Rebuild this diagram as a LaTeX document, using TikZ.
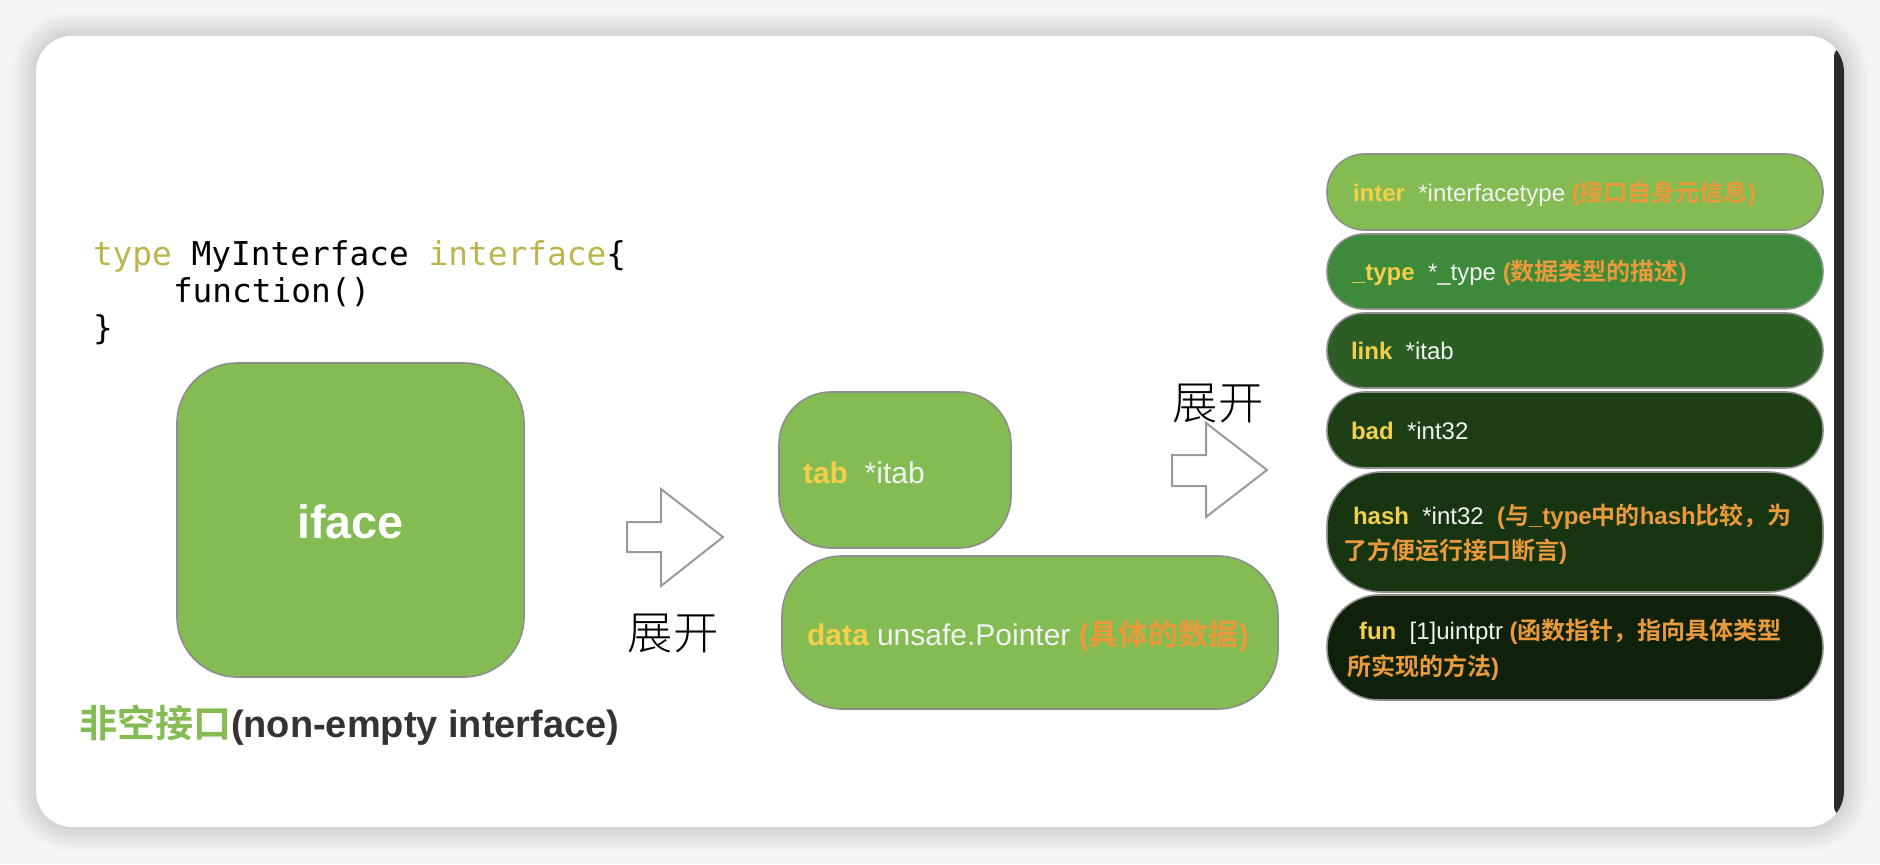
\documentclass[tikz,border=0pt]{standalone}
\usepackage{fontspec}
\setmainfont{Liberation Sans}
\setmonofont{DejaVu Sans Mono}
\newfontfamily\cjk{Noto Sans CJK SC}[BoldFont={* Bold}]
\newfontfamily\cjklight{Noto Sans CJK SC Light}
\definecolor{lgreen}{HTML}{84BC53}
\definecolor{gtwo}{HTML}{3C8A3A}
\definecolor{gthree}{HTML}{2B5D24}
\definecolor{gfour}{HTML}{1D3F15}
\definecolor{gfive}{HTML}{183512}
\definecolor{gsix}{HTML}{0F200B}
\definecolor{kwyellow}{HTML}{F3CF4A}
\definecolor{orng}{HTML}{EA9A3B}
\definecolor{codekw}{HTML}{BBB54B}
\definecolor{bord}{HTML}{8E8E8E}
\definecolor{captiongray}{HTML}{333333}
\definecolor{arrowgray}{HTML}{9A9A9A}
\definecolor{offwhite}{HTML}{F2F2F2}
\newcommand\kwb[1]{\textcolor{kwyellow}{\bfseries #1}}
\newcommand\og[1]{\textcolor{orng}{\bfseries #1}}
\newcommand\zh[1]{{\cjk #1}}
\begin{document}
\begin{tikzpicture}[x=0.75pt,y=-0.75pt,
  gbox/.style={draw=bord, line width=1.2pt, inner sep=0pt, outer sep=0pt},
  txt/.style={anchor=base west, inner sep=0pt, outer sep=0pt},
  rtxt/.style={txt, font=\fontsize{18}{22}\selectfont, text=offwhite},
  mtxt/.style={txt, font=\fontsize{22.5}{27}\selectfont, text=offwhite},
  code/.style={txt, font=\ttfamily\fontsize{24.6}{30}\selectfont},
  zhan/.style={inner sep=0pt, font=\cjklight\fontsize{34}{40}\selectfont},
  bigarrow/.style={draw=arrowgray, line width=1.5pt, fill=white, line join=miter}]
\useasboundingbox (0,0) rectangle (1880,864);
% background and card
\fill[white!96!black] (0,0) rectangle (1880,864);
\foreach \r in {24,21,...,3}{
  \fill[black, opacity=0.016, rounded corners={(27+\r*0.75)*1pt}] (36-\r,36-\r) rectangle (1844+\r,827+\r);
}
\fill[white, rounded corners=27pt] (36,36) rectangle (1844,827);
\begin{scope}
  \clip[rounded corners=27pt] (36,36) rectangle (1844,827);
  \fill[black!83, rounded corners=6pt] (1834,48) rectangle (1860,815);
\end{scope}

% code
\node[code] (code1) at (93,265) {\textcolor{codekw}{type} MyInterface \textcolor{codekw}{interface}\{};
\node[code] (code2) at (173,302) {function()};
\node[code] (code3) at (93,339) {\}};

% iface
\node[gbox, fill=lgreen, rounded corners=45pt, minimum width=260.25pt, minimum height=235.5pt] (iface) at (350.5,520) {};
\node[text=white, font=\bfseries\fontsize{35}{40}\selectfont] (ifacetxt) at (350.5,522) {iface};
\node[txt, font=\fontsize{28.5}{34}\selectfont] (caption) at (79,737)
  {\textcolor{lgreen}{\cjk\bfseries 非空接口}\textcolor{captiongray}{\bfseries(non-empty interface)}};

% arrow 1
\draw[bigarrow] (627,522) -- (661,522) -- (661,489) -- (723,537) -- (661,586) -- (661,552) -- (627,552) -- cycle;
\node[zhan] (zk1) at (673,633) {展开};

% middle boxes
\node[gbox, fill=lgreen, rounded corners=39pt, minimum width=174pt, minimum height=117pt] (tab) at (895,470) {};
\node[mtxt] (tabtxt) at (803,483) {\kwb{tab}\ \ *itab};
\node[gbox, fill=lgreen, rounded corners=45pt, minimum width=372pt, minimum height=114.75pt] (data) at (1030,632.5) {};
\node[mtxt] (datatxt) at (807,645) {\kwb{data} unsafe.Pointer \og{(\zh{具体的数据})}};

% arrow 2
\draw[bigarrow] (1172,455) -- (1206,455) -- (1206,423) -- (1267,470) -- (1206,517) -- (1206,486) -- (1172,486) -- cycle;
\node[zhan] (zk2) at (1218,403) {展开};

% right column
\node[gbox, fill=lgreen, rounded corners=28pt, minimum width=372pt, minimum height=57pt] (inter) at (1575,192) {};
\node[gbox, fill=gtwo, rounded corners=28pt, minimum width=372pt, minimum height=56.25pt] (type) at (1575,271.5) {};
\node[gbox, fill=gthree, rounded corners=28pt, minimum width=372pt, minimum height=56.25pt] (link) at (1575,350.5) {};
\node[gbox, fill=gfour, rounded corners=28pt, minimum width=372pt, minimum height=57pt] (bad) at (1575,430) {};
\node[gbox, fill=gfive, rounded corners=41pt, minimum width=372pt, minimum height=90pt] (hash) at (1575,532) {};
\node[gbox, fill=gsix, rounded corners=39pt, minimum width=372pt, minimum height=78.75pt] (fun) at (1575,647.5) {};

\node[rtxt] (intertxt) at (1353,201) {\kwb{inter}\ \ *interfacetype \og{(\zh{接口自身元信息})}};
\node[rtxt] (typetxt) at (1352,280) {\kwb{\_type}\ \ *\_type \og{(\zh{数据类型的描述})}};
\node[rtxt] (linktxt) at (1351,359) {\kwb{link}\ \ *itab};
\node[rtxt] (badtxt) at (1351,439) {\kwb{bad}\ \ *int32};
\node[rtxt] (hashtxt) at (1353,524) {\kwb{hash}\ \ *int32\ \ \og{(\zh{与}\_type\zh{中的}hash\zh{比较，为}}};
\node[rtxt] (hashtxtb) at (1343,559) {\og{\zh{了方便运行接口断言})}};
\node[rtxt] (funtxt) at (1359,639) {\kwb{fun}\ \ [1]uintptr \og{(\zh{函数指针，指向具体类型}}};
\node[rtxt] (funtxtb) at (1347,675) {\og{\zh{所实现的方法})}};
\end{tikzpicture}
\end{document}
